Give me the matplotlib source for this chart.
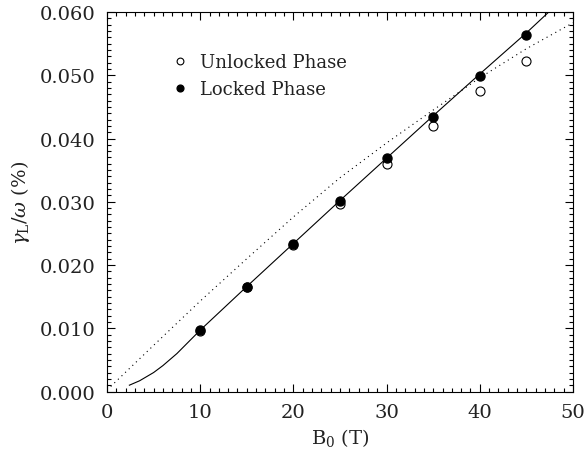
import matplotlib
matplotlib.use('Agg')
import matplotlib.pyplot as plt
from matplotlib.ticker import MultipleLocator

plt.rcParams['font.family'] = 'DejaVu Serif'
plt.rcParams['mathtext.fontset'] = 'dejavuserif'

# Data
b_field = [10, 15, 20, 25, 30, 35, 40, 45]
unlocked = [0.0096, 0.0165, 0.0231, 0.0296, 0.0360, 0.0419, 0.0475, 0.0523]
locked = [0.0097, 0.0166, 0.0234, 0.0302, 0.0369, 0.0434, 0.0499, 0.0564]

# solid curve
solid_b = [2.4, 3.5, 5, 6, 7.5, 10, 15, 20, 25, 30, 35, 40, 45, 47.4]
solid_g = [0.0010, 0.0017, 0.0030, 0.0041, 0.0060, 0.0097, 0.0166, 0.0234,
           0.0302, 0.0369, 0.0436, 0.0502, 0.0567, 0.0600]

# dotted curve
dotted_b = [0.4, 5, 10, 15, 20, 25, 30, 35, 40, 45, 50]
dotted_g = [0.0008, 0.0073, 0.0143, 0.0210, 0.0276, 0.0338, 0.0393,
            0.0445, 0.0496, 0.0542, 0.0583]

fig = plt.figure(figsize=(5.86, 4.52), dpi=100)
ax = fig.add_axes([0.1826, 0.1316, 0.7952, 0.8396])

ax.plot(solid_b, solid_g, color='black', lw=0.8)
ax.plot(dotted_b, dotted_g, color='black', lw=0.8, linestyle=(0, (1, 3.5)))
ax.plot(b_field, unlocked, 'o', mfc='white', mec='black', mew=0.8, ms=6.5,
        label='Unlocked Phase')
ax.plot(b_field, locked, 'o', color='black', ms=6.5, label='Locked Phase')

ax.set_xlim(0, 50)
ax.set_ylim(0, 0.060)
ax.xaxis.set_major_locator(MultipleLocator(10))
ax.xaxis.set_minor_locator(MultipleLocator(1))
ax.yaxis.set_major_locator(MultipleLocator(0.010))
ax.yaxis.set_minor_locator(MultipleLocator(0.001))
ax.yaxis.set_major_formatter(matplotlib.ticker.FormatStrFormatter('%.3f'))
ax.tick_params(which='both', direction='in', top=True, right=True,
               labelsize=14, width=0.8, labelcolor='#222222')
ax.tick_params(which='major', length=6, pad=8)
ax.tick_params(which='minor', length=3)
for s in ax.spines.values():
    s.set_linewidth(0.8)

ax.set_xlabel(r'B$_0$ (T)', fontsize=14, labelpad=4, color='#222222')
ax.set_ylabel(r'$\gamma_{\rm L}/\omega$ (%)', fontsize=14, labelpad=6,
              color='#222222')

leg = ax.legend(loc='upper left', bbox_to_anchor=(0.11, 0.935), frameon=False,
                fontsize=13, markerscale=0.75, handlelength=0.6,
                handletextpad=0.8, labelspacing=0.5)
for t in leg.get_texts():
    t.set_color('#222222')

fig.savefig('out.png', dpi=100)
